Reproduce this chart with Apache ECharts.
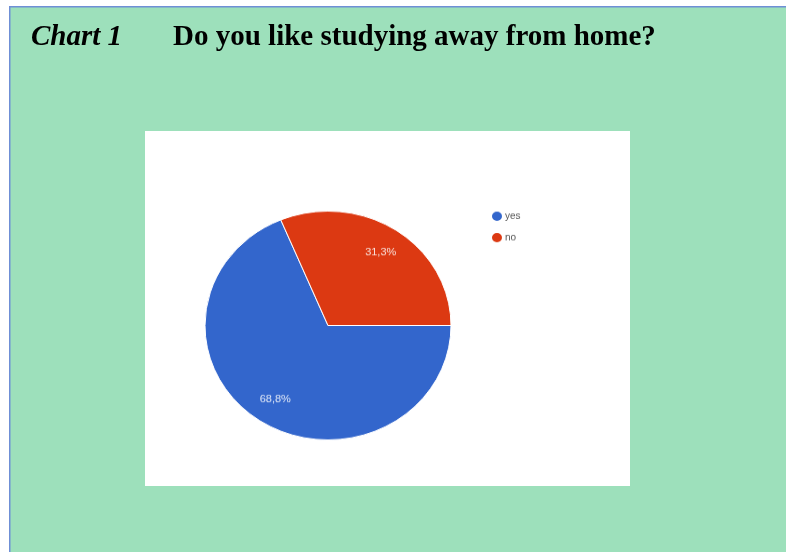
<!DOCTYPE html>
<html>
<head>
<meta charset="utf-8">
<script src="https://cdn.jsdelivr.net/npm/echarts@6/dist/echarts.min.js"></script>
<style>
html,body{margin:0;padding:0;background:#ffffff;}
#wrap{position:relative;width:786px;height:552px;overflow:hidden;}
#c{position:absolute;left:0;top:0;width:786px;height:552px;}
#p{position:absolute;left:0;top:0;width:786px;height:552px;transform-origin:328px 325.5px;transform:scaleY(0.93);}
</style>
</head>
<body>
<div id="wrap"><div id="c"></div><div id="p"></div></div>
<script>
const categories = ['yes', 'no'];
const values = [68.8, 31.3];
const labels = ['68,8%', '31,3%'];
const colors = ['#3366cc', '#dc3912'];

const bg = echarts.init(document.getElementById('c'), null, {renderer: 'canvas'});
bg.setOption({
  animation: false,
  backgroundColor: '#ffffff',
  graphic: [
    {type: 'rect', shape: {x: 9, y: 6, width: 800, height: 560}, style: {fill: '#9de0bb'}, z: -10},
    {type: 'rect', shape: {x: 9, y: 6, width: 800, height: 1.5}, style: {fill: '#6f8fd6'}, z: -9},
    {type: 'rect', shape: {x: 9, y: 6, width: 1.5, height: 560}, style: {fill: '#6f8fd6'}, z: -9},
    {type: 'rect', shape: {x: 145, y: 131, width: 485, height: 355}, style: {fill: '#ffffff'}, z: -8}
  ],
  title: [
    {text: 'Chart 1', left: 26, top: 18, textStyle: {fontFamily: 'Liberation Serif', fontStyle: 'italic', fontWeight: 'bold', fontSize: 29, color: '#000'}},
    {text: 'Do you like studying away from home?', left: 168, top: 18, textStyle: {fontFamily: 'Liberation Serif', fontWeight: 'bold', fontSize: 29, color: '#000'}}
  ]
});

const pieData = categories.map((c, i) => ({name: c, value: values[i], itemStyle: {color: colors[i]}}));
const labelData = categories.map((c, i) => ({name: c, value: values[i], label: {formatter: labels[i]}}));

const pie = echarts.init(document.getElementById('p'), null, {renderer: 'canvas'});
pie.setOption({
  animation: false,
  backgroundColor: 'transparent',
  legend: {
    orient: 'vertical',
    left: 485, top: 196,
    itemWidth: 12, itemHeight: 12, itemGap: 9,
    icon: 'circle',
    data: categories.map((c, i) => ({name: c, itemStyle: {color: colors[i]}})),
    textStyle: {fontFamily: 'Arial, Liberation Sans', fontSize: 10, color: '#555', padding: [0, 0, 0, -3]}
  },
  series: [
    {
      type: 'pie', center: [328, 325.5], radius: [0, 123], startAngle: 0, clockwise: true,
      label: {show: false}, labelLine: {show: false},
      itemStyle: {borderColor: '#ffffff', borderWidth: 1},
      emphasis: {disabled: true},
      data: pieData
    },
    {
      type: 'pie', center: [328, 325.5], radius: [64, 120], startAngle: 0, clockwise: true, silent: true,
      itemStyle: {color: 'rgba(0,0,0,0)'},
      label: {show: true, position: 'inside', color: '#ffffff', fontSize: 11, fontFamily: 'Arial, Liberation Sans', opacity: 0.85},
      labelLine: {show: false},
      emphasis: {disabled: true},
      data: labelData
    }
  ]
});
</script>
</body>
</html>
